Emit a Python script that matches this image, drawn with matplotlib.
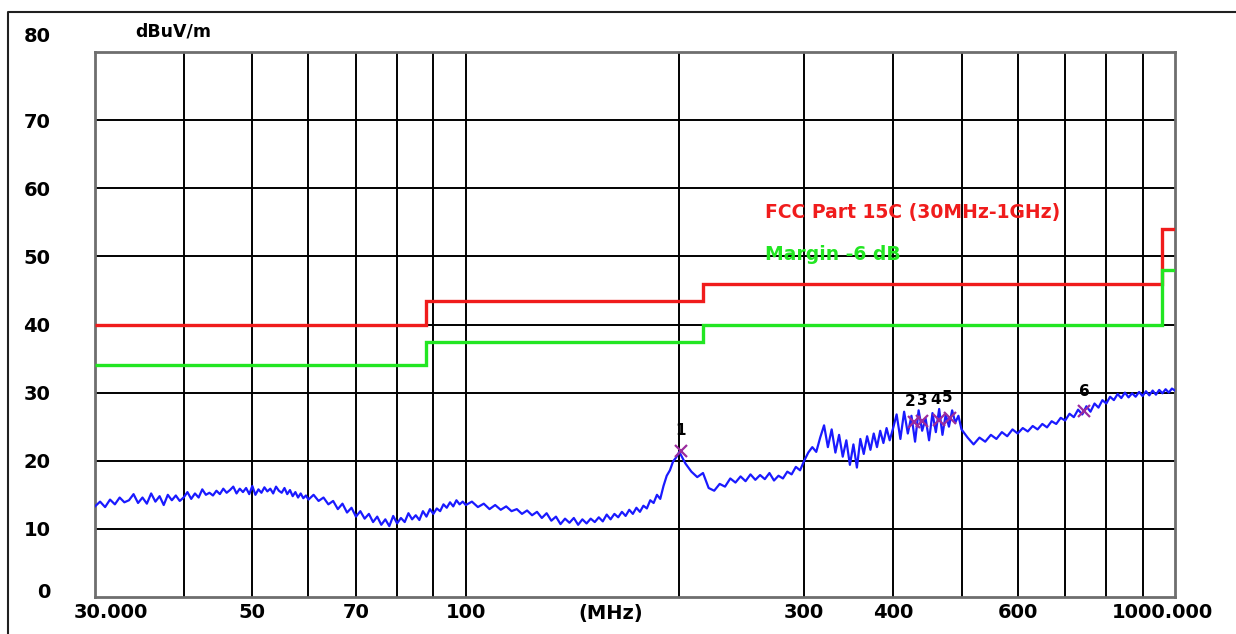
import matplotlib
matplotlib.use("Agg")
import matplotlib.pyplot as plt
from matplotlib.ticker import NullLocator
from matplotlib.transforms import ScaledTranslation, blended_transform_factory

# measured trace, frequency in MHz
freq_a = [30.0, 30.5, 31.0, 31.5, 32.0, 32.5, 33.0, 33.5, 34.0, 34.5,
          35.0, 35.5, 36.0, 36.5, 37.0, 37.5, 38.0, 38.5, 39.0, 39.5,
          40.0, 40.5, 41.0, 41.5, 42.0, 42.5, 43.0, 43.5, 44.0, 44.5,
          45.0, 45.5, 46.0, 46.5, 47.0, 47.5, 48.0, 48.5, 49.0, 49.5,
          50.0, 50.5, 51.0, 51.5, 52.0, 52.5, 53.0, 53.5, 54.0, 54.5,
          55.0, 55.5, 56.0, 56.5, 57.0, 57.5, 58.0, 58.5, 59.0, 59.5]
level_a = [13.3, 14.0, 13.2, 14.3, 13.6, 14.6, 13.9, 14.2, 15.1, 13.8,
           14.6, 13.7, 15.2, 14.0, 14.8, 13.5, 15.0, 14.2, 14.9, 14.1,
           14.6, 15.4, 14.4, 15.2, 14.6, 15.8, 15.0, 15.3, 14.9, 15.6,
           15.1, 15.9, 15.3, 15.7, 16.2, 15.2, 15.9, 15.4, 16.0, 15.1,
           16.3, 15.0, 15.8, 15.3, 16.1, 15.5, 15.9, 15.2, 16.2, 15.6,
           15.3, 16.0, 15.1, 15.7, 14.8, 15.4, 14.6, 15.2, 14.5, 14.9]

freq_b = [60, 61, 62, 63, 64, 65, 66, 67, 68, 69,
          70, 71, 72, 73, 74, 75, 76, 77, 78, 79,
          80, 81, 82, 83, 84, 85, 86, 87, 88, 89,
          90, 91, 92, 93, 94, 95, 96, 97, 98, 99]
level_b = [14.3, 15.0, 14.1, 14.6, 13.6, 14.1, 12.9, 13.7, 12.4, 13.1,
           11.8, 12.6, 11.5, 12.2, 11.0, 11.8, 10.6, 11.4, 10.4, 11.9,
           10.8, 11.6, 11.0, 12.3, 11.4, 12.0, 11.3, 12.6, 11.8, 12.9,
           12.2, 13.0, 12.6, 13.6, 13.1, 13.9, 13.3, 14.2, 13.6, 14.0]

freq_c = [100, 102, 104, 106, 108, 110, 112, 114, 116, 118,
          120, 122, 124, 126, 128, 130, 132, 134, 136, 138,
          140, 142, 144, 146, 148, 150, 152, 154, 156, 158,
          160, 162, 164, 166, 168, 170, 172, 174, 176, 178,
          180, 182, 184, 186, 188, 190, 192, 194, 196, 198]
level_c = [13.5, 14.0, 13.2, 13.7, 12.9, 13.5, 12.8, 13.3, 12.6, 12.9,
           12.2, 12.7, 12.0, 12.5, 11.6, 12.3, 11.2, 11.8, 10.7, 11.5,
           10.9, 11.6, 10.6, 11.4, 10.8, 11.5, 11.0, 11.7, 11.1, 12.1,
           11.4, 12.2, 11.7, 12.5, 11.9, 12.8, 12.2, 13.1, 12.5, 13.4,
           13.0, 14.2, 13.8, 15.0, 14.4, 16.3, 17.8, 18.6, 19.9, 20.5]

freq_d = [200, 204, 208, 212, 216, 220, 224, 228, 232, 236,
          240, 244, 248, 252, 256, 260, 264, 268, 272, 276,
          280, 284, 288, 292, 296, 300, 304, 308, 312, 316,
          320, 324, 328, 332, 336, 340, 344, 348, 352, 356,
          360, 364, 368, 372, 376, 380, 384, 388, 392, 396]
level_d = [21.3, 19.6, 18.4, 17.6, 18.2, 16.0, 15.6, 16.6, 16.2, 17.4,
           16.8, 17.7, 17.0, 18.0, 17.2, 17.9, 17.3, 18.2, 17.1, 17.8,
           17.4, 18.4, 18.0, 19.1, 18.6, 20.0, 21.2, 22.0, 21.3, 23.4,
           25.2, 22.0, 24.6, 21.2, 23.8, 20.6, 23.0, 19.4, 22.4, 19.0,
           23.2, 21.0, 23.6, 21.6, 24.0, 22.0, 24.4, 22.6, 24.8, 23.0]

freq_e = [400, 405, 410, 415, 420, 425, 430, 435, 440, 445,
          450, 455, 460, 465, 470, 475, 480, 485, 490, 495]
level_e = [24.6, 26.8, 23.2, 27.2, 24.0, 26.6, 22.8, 27.4, 24.4, 26.2,
           23.0, 27.0, 24.2, 27.6, 23.8, 26.8, 25.0, 27.4, 25.6, 26.6]

freq_f = [500, 510, 520, 530, 540, 550, 560, 570, 580, 590,
          600, 610, 620, 630, 640, 650, 660, 670, 680, 690,
          700, 710, 720, 730, 740, 750, 760, 770, 780, 790,
          800, 810, 820, 830, 840, 850, 860, 870, 880, 890,
          900, 910, 920, 930, 940, 950, 960, 970, 980, 990, 1000]
level_f = [24.6, 23.4, 22.4, 23.4, 22.8, 23.8, 23.2, 24.2, 23.6, 24.6,
           24.0, 24.8, 24.3, 25.1, 24.6, 25.4, 24.9, 25.8, 25.4, 26.3,
           25.9, 26.9, 26.4, 27.5, 26.8, 28.0, 27.2, 28.4, 27.8, 28.9,
           28.4, 29.4, 28.9, 29.8, 29.2, 30.0, 29.3, 29.9, 29.4, 30.1,
           29.5, 30.2, 29.6, 30.3, 29.7, 30.4, 29.9, 30.5, 30.0, 30.6, 30.3]

# limit lines
limit_edges = [30, 88, 216, 960, 1000]
limit_fcc = [40, 43.5, 46, 54]
limit_margin = [34, 37.5, 40, 48]

# peak markers
peak_labels = ["1", "2", "3", "4", "5", "6"]
peak_freq = [201, 428, 440, 464, 481, 745]
peak_level = [21.5, 25.7, 25.9, 26.0, 26.3, 27.3]

grid_freq = [40, 50, 60, 70, 80, 90, 100, 200, 300, 400, 500, 600, 700, 800, 900]
tick_freq = [30, 50, 70, 100, 300, 400, 600, 1000]
tick_text = ["30.000", "50", "70", "100", "300", "400", "600", "1000.000"]
y_ticks = [0, 10, 20, 30, 40, 50, 60, 70, 80]

freq = freq_a + freq_b + freq_c + freq_d + freq_e + freq_f
level = level_a + level_b + level_c + level_d + level_e + level_f

fig = plt.figure(figsize=(12.36, 6.34), dpi=100)
ax = fig.add_axes([95 / 1236, 37 / 634, 1080 / 1236, 545 / 634])

ax.set_xscale("log")
ax.set_xlim(30, 1000)
ax.set_ylim(0, 80)

# grid
for f in grid_freq:
    ax.axvline(f, color="black", lw=1.4, zorder=1)
for y in y_ticks[1:-1]:
    ax.axhline(y, color="black", lw=1.4, zorder=1)

ax.stairs(limit_fcc, limit_edges, color="#f01c1c", lw=2.4, baseline=None, zorder=3)
ax.stairs(limit_margin, limit_edges, color="#22e622", lw=2.4, baseline=None, zorder=3)

ax.plot(freq, level, color="#1a1aff", lw=1.6, zorder=4)

ax.plot(peak_freq, peak_level, ls="none", marker="x", ms=9, mew=1.6,
        color="#9b2c9e", zorder=5)
# label placement for the crowded pairs 2/3 and 4/5
label_style = [("center", 0), ("right", 1.7), ("left", -3.6),
               ("right", 2.0), ("left", -5.3), ("center", 0)]
for lab, f, v, (ha, dx) in zip(peak_labels, peak_freq, peak_level, label_style):
    ax.annotate(lab, (f, v), xytext=(dx, 9), textcoords="offset points",
                ha=ha, va="bottom", fontsize=11, fontweight="bold",
                color="black", zorder=6)

ax.text(0.62, 0.706, "FCC Part 15C (30MHz-1GHz)", transform=ax.transAxes,
        color="#f01c1c", fontsize=13.5, fontweight="bold", va="center")
ax.text(0.62, 0.629, "Margin -6 dB", transform=ax.transAxes,
        color="#22e622", fontsize=13.5, fontweight="bold", va="center")

# ticks
ax.xaxis.set_minor_locator(NullLocator())
ax.set_xticks(tick_freq)
ax.set_xticklabels(tick_text)
ax.set_yticks(y_ticks)
ax.tick_params(length=0, labelsize=14, pad=4)
ax.tick_params(axis="y", pad=32)
for lbl in ax.get_xticklabels() + ax.get_yticklabels():
    lbl.set_fontweight("bold")

xl = ax.get_xticklabels()
xl[0].set_transform(xl[0].get_transform() + ScaledTranslation(0.16, 0, fig.dpi_scale_trans))
xl[-1].set_transform(xl[-1].get_transform() + ScaledTranslation(-0.13, 0, fig.dpi_scale_trans))
yl = ax.get_yticklabels()
yl[0].set_transform(yl[0].get_transform() + ScaledTranslation(0, 0.07, fig.dpi_scale_trans))
yl[-1].set_transform(yl[-1].get_transform() + ScaledTranslation(0, 0.17, fig.dpi_scale_trans))

trans = blended_transform_factory(ax.transData, ax.transAxes)
ax.text(160, -0.012, "(MHz)", transform=trans, ha="center", va="top",
        fontsize=14, fontweight="bold")

for sp in ax.spines.values():
    sp.set_color("#6e6e6e")
    sp.set_linewidth(2)

fig.text(135 / 1236, 1 - 32 / 634, "dBuV/m", fontsize=12.5, fontweight="bold",
         va="center", ha="left")

# outer frame (top and left only visible)
fig.add_artist(plt.Line2D([8 / 1236, 8 / 1236, 1.0], [0.0, 1 - 12 / 634, 1 - 12 / 634],
                          transform=fig.transFigure, color="#202020", lw=1.5))

fig.savefig("out.png", dpi=100, facecolor="white")
